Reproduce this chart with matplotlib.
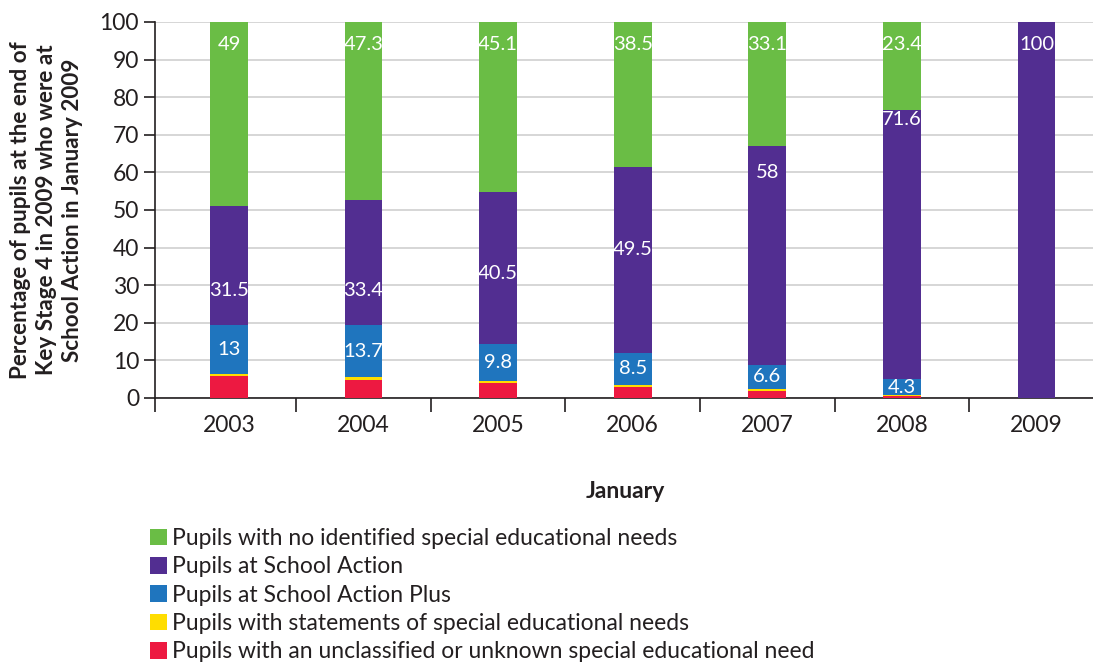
import numpy as np
import matplotlib.pyplot as plt
from matplotlib.patches import Patch

plt.switch_backend('Agg')
plt.rcParams['font.family'] = ['Lato', 'DejaVu Sans']

years = ['2003', '2004', '2005', '2006', '2007', '2008', '2009']
unknown = [5.9, 4.9, 4.0, 3.0, 1.8, 0.4, 0.0]
statements = [0.6, 0.7, 0.6, 0.5, 0.5, 0.3, 0.0]
action_plus = [13, 13.7, 9.8, 8.5, 6.6, 4.3, 0]
action = [31.5, 33.4, 40.5, 49.5, 58, 71.6, 100]
no_sen = [49, 47.3, 45.1, 38.5, 33.1, 23.4, 0]

# where the printed value of the School Action segment sits
action_label_y = [28.7, 28.7, 33.2, 39.6, 60, 74, 94]

names = ['Pupils with no identified special educational needs',
         'Pupils at School Action',
         'Pupils at School Action Plus',
         'Pupils with statements of special educational needs',
         'Pupils with an unclassified or unknown special educational need']
colors = ['#6abd45', '#522e91', '#1f75be', '#ffdd00', '#ed1941']

fig = plt.figure(figsize=(10.93, 6.64), dpi=100)
ax = fig.add_axes([155 / 1093, 1 - 398 / 664, 938 / 1093, 376 / 664])

x = np.arange(len(years))
w = 0.28
series = [unknown, statements, action_plus, action, no_sen]
series_colors = colors[::-1]
bottom = np.zeros(len(years))
for vals, c in zip(series, series_colors):
    ax.bar(x, vals, w, bottom=bottom, color=c, zorder=3)
    bottom += np.array(vals)

txt = dict(color='white', ha='center', va='center', fontsize=14.5, zorder=4)
base_plus = np.array(unknown) + np.array(statements)
for i in range(len(years)):
    if action_plus[i] > 0:
        ax.text(x[i], base_plus[i] + action_plus[i] / 2, f'{action_plus[i]:g}', **txt)
    ax.text(x[i], action_label_y[i], f'{action[i]:g}', **txt)
    if no_sen[i] > 0:
        ax.text(x[i], 94, f'{no_sen[i]:g}', **txt)

ax.set_ylim(0, 100)
ax.set_xlim(-0.55, 6.42)
ax.set_yticks(np.arange(0, 101, 10))
ax.set_xticks(x)
ax.set_xticklabels(years)
ax.set_xticks([-0.55, 0.5, 1.5, 2.5, 3.5, 4.5, 5.5], minor=True)
ax.tick_params(axis='x', which='major', length=0, pad=12, labelsize=16.5, colors='#231f20')
ax.tick_params(axis='x', which='minor', length=10, width=1.2, color='#231f20')
ax.tick_params(axis='y', length=8, width=1.2, labelsize=16.5, colors='#231f20')
ax.grid(axis='y', color='#d0d0d0', linewidth=1.2, zorder=0)
for s in ['top', 'right']:
    ax.spines[s].set_visible(False)
for s in ['left', 'bottom']:
    ax.spines[s].set_linewidth(1.2)
    ax.spines[s].set_color('#231f20')

ax.set_ylabel('Percentage of pupils at the end of\nKey Stage 4 in 2009 who were at\nSchool Action in January 2009',
              fontsize=16.2, fontweight='bold', color='#231f20', labelpad=12, linespacing=1.3)
fig.text(625 / 1093, 1 - 491 / 664, 'January', ha='center', va='center',
         fontsize=16.5, fontweight='bold', color='#231f20')

handles = [Patch(facecolor=c) for c in colors]
fig.legend(handles, names, loc='upper left', bbox_to_anchor=(150 / 1093, 1 - 528 / 664),
           frameon=False, fontsize=16.5, handlelength=0.75, handleheight=0.75,
           handletextpad=0.2, labelspacing=0.32, borderaxespad=0, borderpad=0,
           labelcolor='#231f20')

fig.savefig('out.png', dpi=100)
